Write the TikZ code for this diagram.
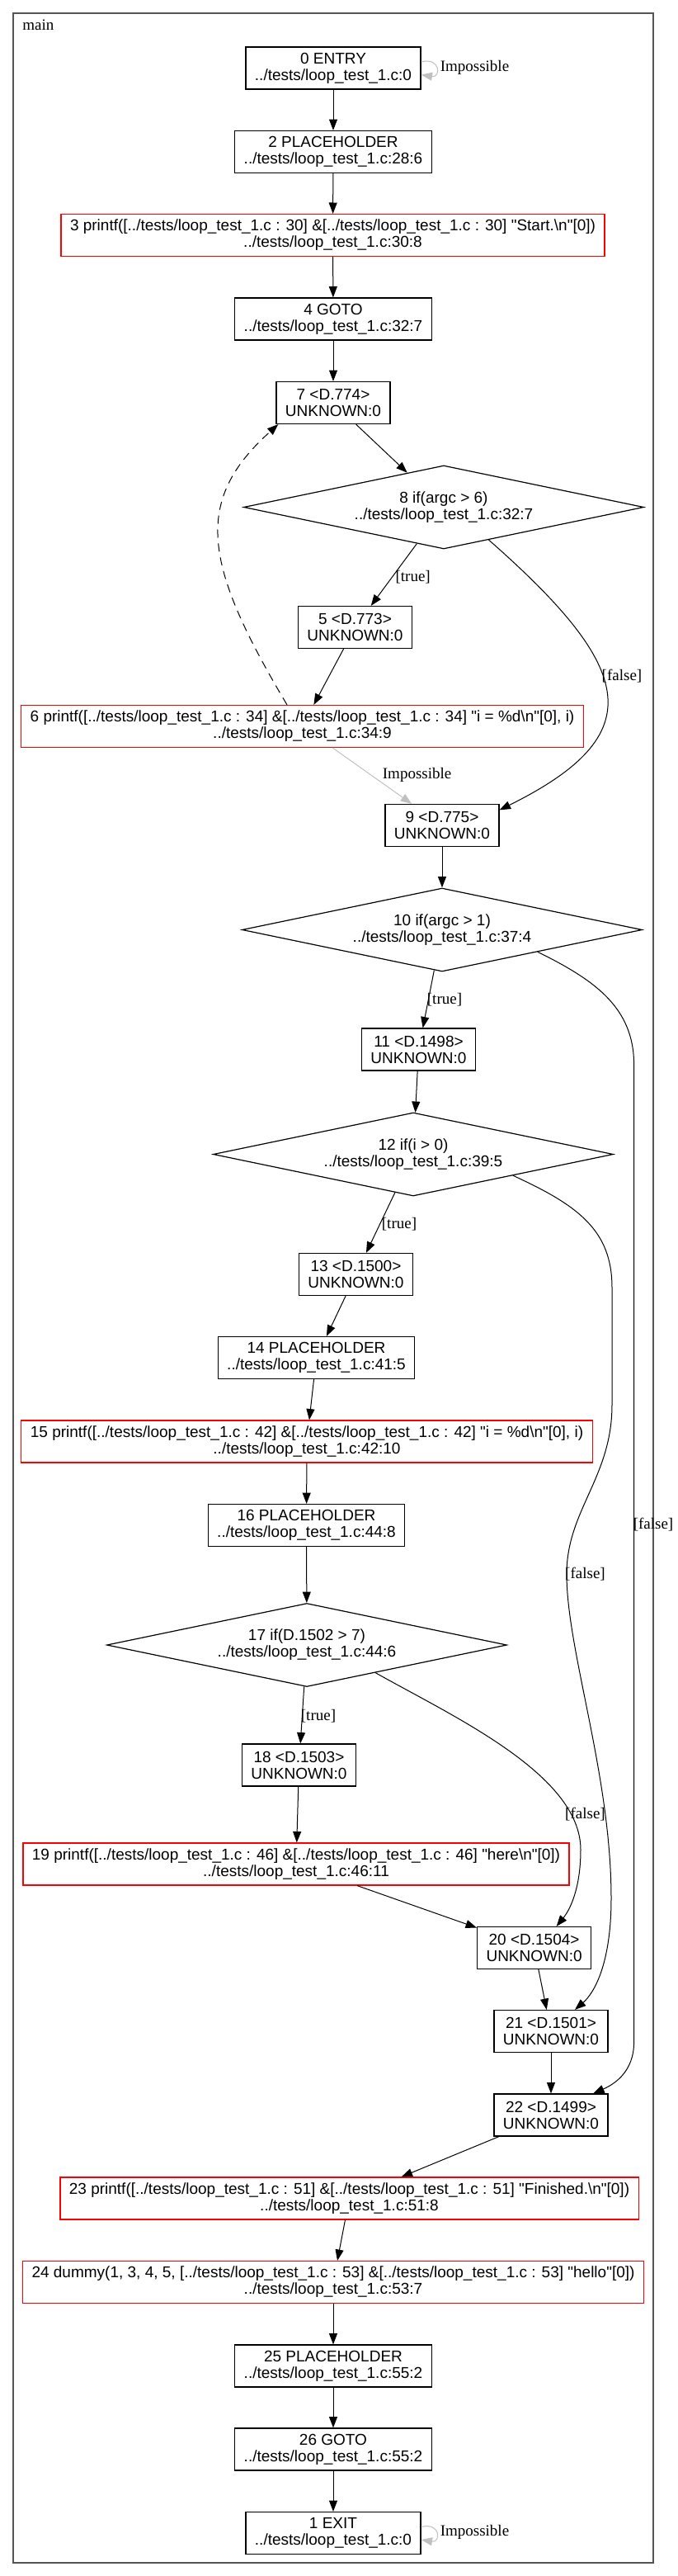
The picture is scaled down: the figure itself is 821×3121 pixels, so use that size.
\documentclass[tikz,border=0pt]{standalone}
\usepackage{fontspec}
\setmainfont{Liberation Serif}
\newfontfamily\cfgfont{Liberation Sans}
\usetikzlibrary{arrows.meta,shapes.geometric,calc}
\definecolor{deadgray}{RGB}{192,192,192}
\definecolor{framegray}{RGB}{85,85,85}
\tikzset{
  stmt/.style={draw=black,line width=0.6pt,font=\cfgfont\fontsize{9.5}{10}\selectfont,
    align=center,minimum height=25.5pt,inner xsep=5.5pt,inner ysep=1pt},
  call/.style={stmt,draw=red},
  cond/.style={diamond,draw=black,line width=0.6pt,font=\cfgfont\fontsize{9.5}{10}\selectfont,
    align=center,minimum width=242.5pt,minimum height=50.5pt,inner sep=0pt,shape aspect=4.8},
  flow/.style={line width=0.5pt,-{Triangle[length=6.7pt,width=5pt]}},
  back/.style={flow,dash pattern=on 5pt off 3.5pt},
  dead/.style={flow,color=deadgray},
  lbl/.style={font=\fontsize{9.5}{10}\selectfont,inner sep=0pt},
  cluster/.style={draw=framegray,line width=0.65pt}
}
\begin{document}
\begin{tikzpicture}[x=0.5pt,y=-0.5pt]
\useasboundingbox (0,0) rectangle (821,3121);
\draw[cluster] (16,16) rectangle (792,3105);
\node[lbl,anchor=west] (title) at (27,30) {main};
\node[stmt] (n0) at (404,82.5) {0 ENTRY\\../tests/loop\_test\_1.c:0};
\node[stmt] (n2) at (404,184) {2 PLACEHOLDER\\../tests/loop\_test\_1.c:28:6};
\node[call] (n3) at (403.5,285) {3 printf([../tests/loop\_test\_1.c : 30] \&[../tests/loop\_test\_1.c : 30] "Start.\textbackslash n"[0])\\../tests/loop\_test\_1.c:30:8};
\node[stmt] (n4) at (404,386.5) {4 GOTO\\../tests/loop\_test\_1.c:32:7};
\node[stmt] (n7) at (404,488) {7 <D.774>\\UNKNOWN:0};
\node[cond] (n8) at (538,614.5) {8 if(argc > 6)\\../tests/loop\_test\_1.c:32:7};
\node[stmt] (n5) at (430.5,760) {5 <D.773>\\UNKNOWN:0};
\node[call] (n6) at (366.5,880) {6 printf([../tests/loop\_test\_1.c : 34] \&[../tests/loop\_test\_1.c : 34] "i = \%d\textbackslash n"[0], i)\\../tests/loop\_test\_1.c:34:9};
\node[stmt] (n9) at (536,1000) {9 <D.775>\\UNKNOWN:0};
\node[cond] (n10) at (536,1126.5) {10 if(argc > 1)\\../tests/loop\_test\_1.c:37:4};
\node[stmt] (n11) at (507.5,1271.5) {11 <D.1498>\\UNKNOWN:0};
\node[cond] (n12) at (501,1398.5) {12 if(i > 0)\\../tests/loop\_test\_1.c:39:5};
\node[stmt] (n13) at (431.5,1544) {13 <D.1500>\\UNKNOWN:0};
\node[stmt] (n14) at (383.5,1645) {14 PLACEHOLDER\\../tests/loop\_test\_1.c:41:5};
\node[call] (n15) at (372,1746.5) {15 printf([../tests/loop\_test\_1.c : 42] \&[../tests/loop\_test\_1.c : 42] "i = \%d\textbackslash n"[0], i)\\../tests/loop\_test\_1.c:42:10};
\node[stmt] (n16) at (371.5,1848) {16 PLACEHOLDER\\../tests/loop\_test\_1.c:44:8};
\node[cond] (n17) at (372,1993) {17 if(D.1502 > 7)\\../tests/loop\_test\_1.c:44:6};
\node[stmt] (n18) at (362.5,2138.5) {18 <D.1503>\\UNKNOWN:0};
\node[call] (n19) at (359,2258.5) {19 printf([../tests/loop\_test\_1.c : 46] \&[../tests/loop\_test\_1.c : 46] "here\textbackslash n"[0])\\../tests/loop\_test\_1.c:46:11};
\node[stmt] (n20) at (647.6,2360) {20 <D.1504>\\UNKNOWN:0};
\node[stmt] (n21) at (668,2461) {21 <D.1501>\\UNKNOWN:0};
\node[stmt] (n22) at (668,2562.5) {22 <D.1499>\\UNKNOWN:0};
\node[call] (n23) at (423.5,2663.5) {23 printf([../tests/loop\_test\_1.c : 51] \&[../tests/loop\_test\_1.c : 51] "Finished.\textbackslash n"[0])\\../tests/loop\_test\_1.c:51:8};
\node[call] (n24) at (404,2765) {24 dummy(1, 3, 4, 5, [../tests/loop\_test\_1.c : 53] \&[../tests/loop\_test\_1.c : 53] "hello"[0])\\../tests/loop\_test\_1.c:53:7};
\node[stmt] (n25) at (404,2866.5) {25 PLACEHOLDER\\../tests/loop\_test\_1.c:55:2};
\node[stmt] (n26) at (404,2967.5) {26 GOTO\\../tests/loop\_test\_1.c:55:2};
\node[stmt] (n1) at (404,3069) {1 EXIT\\../tests/loop\_test\_1.c:0};
\draw[dead] ([yshift=3.75pt]n0.east) .. controls +(12pt,3pt) and +(12pt,-2pt) .. ([yshift=-4pt]n0.east);
\draw[flow] (n0) -- (n2);
\draw[flow] (n2) -- (n3);
\draw[flow] (n3) -- (n4);
\draw[flow] (n4) -- (n7);
\draw[flow] (n7) -- (n8);
\draw[flow] (n8) -- (n5);
\draw[flow] (n8.-36) .. controls (771,811) and (790,890) .. (n9.15);
\draw[flow] (n5) -- (n6);
\draw[back] ([xshift=-9.25pt]n6.north) .. controls (246,683) and (234,607) .. ([xshift=1.5pt]n7.south west);
\draw[dead] (n6) -- (n9);
\draw[flow] (n9) -- (n10);
\draw[flow] (n10) -- (n11);
\draw[flow] (n10.-13) .. controls (720,1187) and (768.6,1220) .. (768.6,1290) -- (768.6,2474) .. controls (768.6,2510) and (745,2525) .. (n22.27.5);
\draw[flow] (n11) -- (n12);
\draw[flow] (n12) -- (n13);
\draw[flow] (n12.-12.5) .. controls (700,1460) and (742,1490) .. (742,1560) -- (742,1702) .. controls (742,1790) and (687,1830) .. (687,1907) .. controls (687,2000) and (741,2150) .. (741,2300) .. controls (741,2380) and (720,2415) .. (n21.42);
\draw[flow] (n13) -- (n14);
\draw[flow] (n14) -- (n15);
\draw[flow] (n15) -- (n16);
\draw[flow] (n16) -- (n17);
\draw[flow] (n17) -- (n18);
\draw[flow] (n17.-22) .. controls (550,2080) and (704,2150) .. (704,2241) .. controls (704,2290) and (690,2315) .. (n20.44);
\draw[flow] (n18) -- (n19);
\draw[flow] (n19) -- (n20);
\draw[flow] (n20) -- (n21);
\draw[flow] (n21) -- (n22);
\draw[flow] (n22) -- (n23);
\draw[flow] (n23) -- (n24);
\draw[flow] (n24) -- (n25);
\draw[flow] (n25) -- (n26);
\draw[flow] (n26) -- (n1);
\draw[dead] ([yshift=3.75pt]n1.east) .. controls +(12pt,3pt) and +(12pt,-2pt) .. ([yshift=-4pt]n1.east);
\node[lbl] (l00) at (575.5,82) {Impossible};
\node[lbl] (l85) at (500.7,699) {[true]};
\node[lbl] (l89) at (754,819) {[false]};
\node[lbl] (l69) at (505.6,939) {Impossible};
\node[lbl] (l1011) at (539,1211) {[true]};
\node[lbl] (l1022) at (792,1847) {[false]};
\node[lbl] (l1213) at (484,1483) {[true]};
\node[lbl] (l1221) at (709.5,1907) {[false]};
\node[lbl] (l1718) at (386,2079) {[true]};
\node[lbl] (l1720) at (709.5,2198) {[false]};
\node[lbl] (l11) at (575.5,3068) {Impossible};
\end{tikzpicture}
\end{document}
